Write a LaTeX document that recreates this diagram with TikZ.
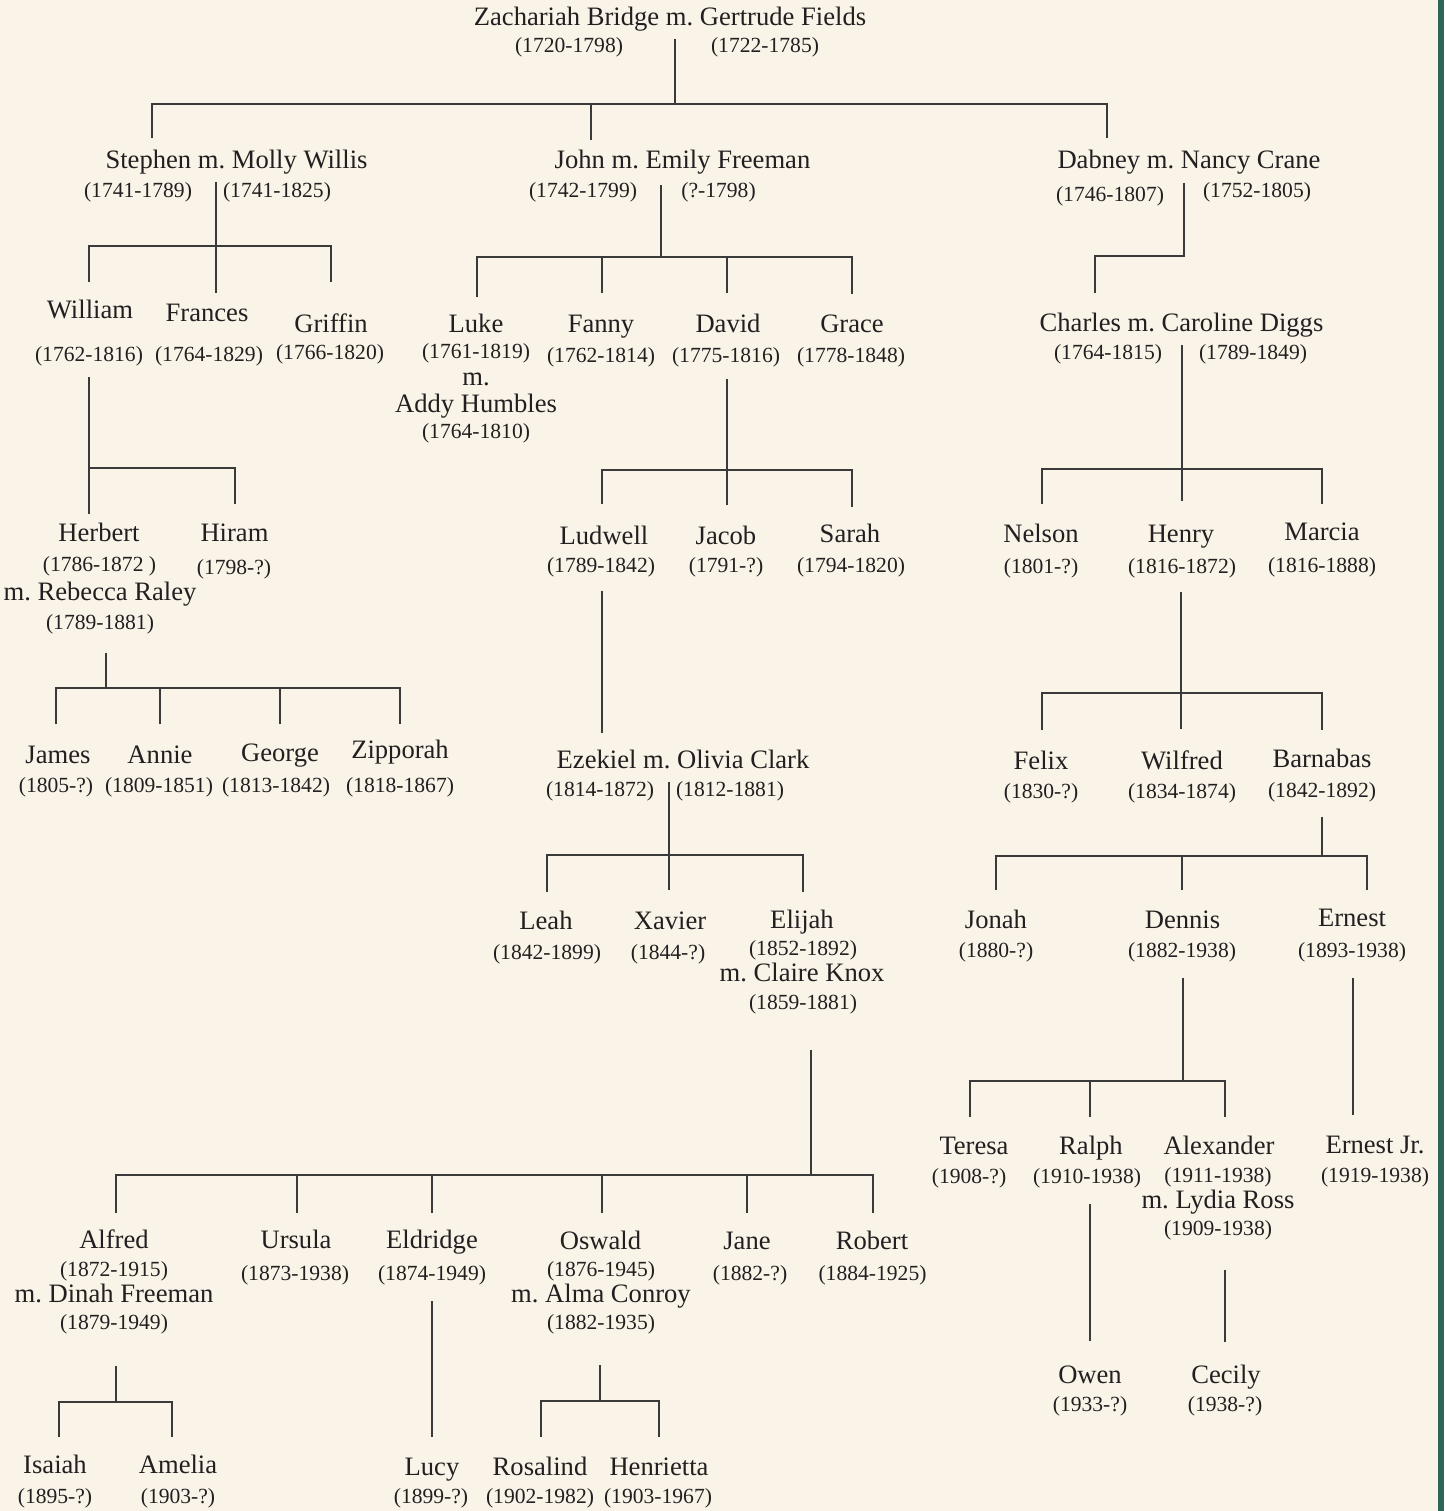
\documentclass[tikz,border=0pt]{standalone}
\usepackage{fontspec}
\setmainfont{Liberation Serif}
\frenchspacing
\definecolor{paper}{HTML}{F9F3E8}
\definecolor{edge}{HTML}{2D6659}
\definecolor{ink}{HTML}{231F20}
\definecolor{wire}{HTML}{3A3A3A}
\newcommand{\nmfont}{\fontsize{26.6}{30}\selectfont}
\newcommand{\yrfont}{\fontsize{21.6}{25}\selectfont}
\tikzset{
  person/.style={anchor=base, inner sep=0pt, font=\nmfont, text=ink},
  years/.style={anchor=base, inner sep=0pt, font=\yrfont, text=ink},
  link/.style={draw=wire, line width=1.5pt}
}
\begin{document}
\begin{tikzpicture}[x=1pt,y=-1pt]
     \fill[paper] (0,0) rectangle (1444,1511);
     \fill[edge] (1438,0) rectangle (1444,1511);
     \useasboundingbox (0,0) rectangle (1444,1511);

     % Zachariah
     \node[person] (zach) at (670,26) {Zachariah Bridge m. Gertrude Fields};
         \node[years] (zach-y1) at (569,53) {(1720-1798)};
         \node[years] (zach-y2) at (765,53) {(1722-1785)};
         \coordinate (zach-out) at (675,39);
         \coordinate (zach-bar) at (675,104);

     % Stephen, John, Dabney
     \node[person] (steph) at (236.5,169) {Stephen m. Molly Willis};
         \node[years] (steph-y1) at (138,198) {(1741-1789)};
         \node[years] (steph-y2) at (277,198) {(1741-1825)};
         \coordinate (steph-in) at (152,138);
         \coordinate (steph-out) at (216,182);
         \coordinate (steph-bar) at (216,246);
     \node[person] (john) at (682.5,169) {John m. Emily Freeman};
         \node[years] (john-y1) at (583,198) {(1742-1799)};
         \node[years] (john-y2) at (718.5,198) {(?-1798)};
         \coordinate (john-in) at (591,140);
         \coordinate (john-out) at (661,185);
         \coordinate (john-bar) at (661,257);
     \node[person] (dab) at (1189,169) {Dabney m. Nancy Crane};
         \node[years] (dab-y1) at (1110,202) {(1746-1807)};
         \node[years] (dab-y2) at (1257,198) {(1752-1805)};
         \coordinate (dab-in) at (1107,138);
         \coordinate (dab-out) at (1184,183);
         \coordinate (dab-bar) at (1184,256);

     % children of Stephen
     \node[person] (will) at (90,319) {William};
         \node[years] (will-y) at (89,361) {(1762-1816)};
         \coordinate (will-in) at (89,282);
         \coordinate (will-out) at (89,377);
         \coordinate (will-bar) at (89,468);
     \node[person] (fran) at (207,321) {Frances};
         \node[years] (fran-y) at (209,361) {(1764-1829)};
         \coordinate (fran-in) at (216,293);
     \node[person] (grif) at (331,332) {Griffin};
         \node[years] (grif-y) at (330,359) {(1766-1820)};
         \coordinate (grif-in) at (331,282);

     % children of John
     \node[person] (luke) at (476,332) {Luke};
         \node[years] (luke-y) at (476,358) {(1761-1819)};
         \node[person] (luke-m) at (476,385) {m.};
         \node[person] (addy) at (476,412) {Addy Humbles};
         \node[years] (addy-y) at (476,438) {(1764-1810)};
         \coordinate (luke-in) at (477,297);
     \node[person] (fanny) at (601,332) {Fanny};
         \node[years] (fanny-y) at (601,362) {(1762-1814)};
         \coordinate (fanny-in) at (602,293);
     \node[person] (david) at (728,332) {David};
         \node[years] (david-y) at (726,362) {(1775-1816)};
         \coordinate (david-in) at (727,293);
         \coordinate (david-out) at (727,379);
         \coordinate (david-bar) at (727,470);
     \node[person] (grace) at (852,332) {Grace};
         \node[years] (grace-y) at (851,362) {(1778-1848)};
         \coordinate (grace-in) at (852,294);

     % child of Dabney
     \node[person] (charles) at (1181.5,331) {Charles m. Caroline Diggs};
         \node[years] (charles-y1) at (1108,359) {(1764-1815)};
         \node[years] (charles-y2) at (1253,359) {(1789-1849)};
         \coordinate (charles-in) at (1095,293);
         \coordinate (charles-out) at (1182,345);
         \coordinate (charles-bar) at (1182,469);

     % children of William
     \node[person] (herb) at (99,541) {Herbert};
         \node[years] (herb-y) at (99.5,571) {(1786-1872 )};
         \node[person] (rebecca) at (100,600) {m. Rebecca Raley};
         \node[years] (rebecca-y) at (100,629) {(1789-1881)};
         \coordinate (herb-in) at (89,514);
         \coordinate (herb-out) at (106,653);
         \coordinate (herb-bar) at (106,688);
     \node[person] (hiram) at (234.5,541) {Hiram};
         \node[years] (hiram-y) at (234,574) {(1798-?)};
         \coordinate (hiram-in) at (235,504);

     % children of David
     \node[person] (ludwell) at (604,544) {Ludwell};
         \node[years] (ludwell-y) at (601,572) {(1789-1842)};
         \coordinate (ludwell-in) at (602,504);
         \coordinate (ludwell-out) at (602,591);
     \node[person] (jacob) at (726,544) {Jacob};
         \node[years] (jacob-y) at (726,572) {(1791-?)};
         \coordinate (jacob-in) at (727,505);
     \node[person] (sarah) at (850,542) {Sarah};
         \node[years] (sarah-y) at (851,572) {(1794-1820)};
         \coordinate (sarah-in) at (852,507);

     % children of Charles
     \node[person] (nelson) at (1041,542) {Nelson};
         \node[years] (nelson-y) at (1041,573) {(1801-?)};
         \coordinate (nelson-in) at (1042,504);
     \node[person] (henry) at (1181,542) {Henry};
         \node[years] (henry-y) at (1182,573) {(1816-1872)};
         \coordinate (henry-in) at (1182,501);
         \coordinate (henry-out) at (1181,592);
         \coordinate (henry-bar) at (1181,693);
     \node[person] (marcia) at (1322,540) {Marcia};
         \node[years] (marcia-y) at (1322,572) {(1816-1888)};
         \coordinate (marcia-in) at (1322,504);

     % children of Herbert
     \node[person] (james) at (58,763) {James};
         \node[years] (james-y) at (56,792) {(1805-?)};
         \coordinate (james-in) at (56,724);
     \node[person] (annie) at (160,763) {Annie};
         \node[years] (annie-y) at (159,792) {(1809-1851)};
         \coordinate (annie-in) at (160,724);
     \node[person] (george) at (280,761) {George};
         \node[years] (george-y) at (276,792) {(1813-1842)};
         \coordinate (george-in) at (280,724);
     \node[person] (zipp) at (400,758) {Zipporah};
         \node[years] (zipp-y) at (400,792) {(1818-1867)};
         \coordinate (zipp-in) at (400,724);

     % child of Ludwell
     \node[person] (ezek) at (683,768) {Ezekiel m. Olivia Clark};
         \node[years] (ezek-y1) at (600,796) {(1814-1872)};
         \node[years] (ezek-y2) at (730,796) {(1812-1881)};
         \coordinate (ezek-in) at (602,733);
         \coordinate (ezek-out) at (669,782);
         \coordinate (ezek-bar) at (669,855);

     % children of Henry
     \node[person] (felix) at (1041,769) {Felix};
         \node[years] (felix-y) at (1041,798) {(1830-?)};
         \coordinate (felix-in) at (1042,730);
     \node[person] (wilf) at (1182,769) {Wilfred};
         \node[years] (wilf-y) at (1182,798) {(1834-1874)};
         \coordinate (wilf-in) at (1181,729);
     \node[person] (barn) at (1322,767) {Barnabas};
         \node[years] (barn-y) at (1322,797) {(1842-1892)};
         \coordinate (barn-in) at (1322,730);
         \coordinate (barn-out) at (1322,817);
         \coordinate (barn-bar) at (1322,856);

     % children of Ezekiel
     \node[person] (leah) at (546,929) {Leah};
         \node[years] (leah-y) at (547,959) {(1842-1899)};
         \coordinate (leah-in) at (547,892);
     \node[person] (xav) at (670,929) {Xavier};
         \node[years] (xav-y) at (668,959) {(1844-?)};
         \coordinate (xav-in) at (669,890);
     \node[person] (elijah) at (802,928) {Elijah};
         \node[years] (elijah-y) at (803,955) {(1852-1892)};
         \node[person] (claire) at (802,981) {m. Claire Knox};
         \node[years] (claire-y) at (803,1009) {(1859-1881)};
         \coordinate (elijah-in) at (803,892);
         \coordinate (elijah-out) at (811,1050);
         \coordinate (elijah-bar) at (811,1175);

     % children of Barnabas
     \node[person] (jonah) at (996,928) {Jonah};
         \node[years] (jonah-y) at (996,957) {(1880-?)};
         \coordinate (jonah-in) at (996,890);
     \node[person] (dennis) at (1182.5,928) {Dennis};
         \node[years] (dennis-y) at (1182,957) {(1882-1938)};
         \coordinate (dennis-in) at (1182,890);
         \coordinate (dennis-out) at (1183,978);
         \coordinate (dennis-bar) at (1183,1081);
     \node[person] (ernest) at (1352,926) {Ernest};
         \node[years] (ernest-y) at (1352,957) {(1893-1938)};
         \coordinate (ernest-in) at (1367,890);
         \coordinate (ernest-out) at (1353,978);

     % children of Elijah
     \node[person] (alfred) at (114,1248) {Alfred};
         \node[years] (alfred-y) at (114,1276) {(1872-1915)};
         \node[person] (dinah) at (114,1302) {m. Dinah Freeman};
         \node[years] (dinah-y) at (114,1329) {(1879-1949)};
         \coordinate (alfred-in) at (116,1213);
         \coordinate (alfred-out) at (116,1366);
         \coordinate (alfred-bar) at (116,1402);
     \node[person] (ursula) at (296,1248) {Ursula};
         \node[years] (ursula-y) at (295,1280) {(1873-1938)};
         \coordinate (ursula-in) at (297,1213);
     \node[person] (eld) at (432,1248) {Eldridge};
         \node[years] (eld-y) at (432,1280) {(1874-1949)};
         \coordinate (eld-in) at (432,1213);
         \coordinate (eld-out) at (432,1301);
     \node[person] (osw) at (600.5,1249) {Oswald};
         \node[years] (osw-y) at (601,1276) {(1876-1945)};
         \node[person] (alma) at (601,1302) {m. Alma Conroy};
         \node[years] (alma-y) at (601,1329) {(1882-1935)};
         \coordinate (osw-in) at (602,1213);
         \coordinate (osw-out) at (600,1365);
         \coordinate (osw-bar) at (600,1401);
     \node[person] (jane) at (747,1249) {Jane};
         \node[years] (jane-y) at (750,1280) {(1882-?)};
         \coordinate (jane-in) at (747,1213);
     \node[person] (rob) at (872,1249) {Robert};
         \node[years] (rob-y) at (872.5,1280) {(1884-1925)};
         \coordinate (rob-in) at (873,1213);

     % children of Dennis and Ernest
     \node[person] (teresa) at (974,1154) {Teresa};
         \node[years] (teresa-y) at (969,1183) {(1908-?)};
         \coordinate (teresa-in) at (970,1117);
     \node[person] (ralph) at (1091,1154) {Ralph};
         \node[years] (ralph-y) at (1087,1183) {(1910-1938)};
         \coordinate (ralph-in) at (1090,1117);
         \coordinate (ralph-out) at (1090,1204);
     \node[person] (alex) at (1219,1154) {Alexander};
         \node[years] (alex-y) at (1218,1182) {(1911-1938)};
         \node[person] (lydia) at (1218,1208) {m. Lydia Ross};
         \node[years] (lydia-y) at (1218,1235) {(1909-1938)};
         \coordinate (alex-in) at (1225,1117);
         \coordinate (alex-out) at (1225,1270);
     \node[person] (ernjr) at (1375,1153) {Ernest Jr.};
         \node[years] (ernjr-y) at (1375,1182) {(1919-1938)};
         \coordinate (ernjr-in) at (1353,1115);

     % last generation
     \node[person] (isaiah) at (55,1473) {Isaiah};
         \node[years] (isaiah-y) at (55,1503) {(1895-?)};
         \coordinate (isaiah-in) at (59,1437);
     \node[person] (amelia) at (178,1473) {Amelia};
         \node[years] (amelia-y) at (178,1503) {(1903-?)};
         \coordinate (amelia-in) at (172,1437);
     \node[person] (lucy) at (432,1475) {Lucy};
         \node[years] (lucy-y) at (431,1503) {(1899-?)};
         \coordinate (lucy-in) at (432,1437);
     \node[person] (rosa) at (540,1475) {Rosalind};
         \node[years] (rosa-y) at (540,1503) {(1902-1982)};
         \coordinate (rosa-in) at (541,1437);
     \node[person] (henr) at (659,1475) {Henrietta};
         \node[years] (henr-y) at (658,1503) {(1903-1967)};
         \coordinate (henr-in) at (659,1437);
     \node[person] (owen) at (1090,1383) {Owen};
         \node[years] (owen-y) at (1090,1411) {(1933-?)};
         \coordinate (owen-in) at (1090,1341);
     \node[person] (cecily) at (1226,1383) {Cecily};
         \node[years] (cecily-y) at (1225,1411) {(1938-?)};
         \coordinate (cecily-in) at (1225,1342);

     % lines
     \draw[link] (zach-out) -- (zach-bar);
         \draw[link] (steph-in) |- (zach-bar) -| (dab-in);
         \draw[link] (john-in) -- (john-in |- zach-bar);
     \draw[link] (steph-out) -- (fran-in);
         \draw[link] (will-in) |- (steph-bar) -| (grif-in);
     \draw[link] (john-out) -- (john-bar);
         \draw[link] (luke-in) |- (john-bar) -| (grace-in);
         \draw[link] (fanny-in) -- (fanny-in |- john-bar);
         \draw[link] (david-in) -- (david-in |- john-bar);
     \draw[link] (dab-out) -- (dab-bar) -| (charles-in);
     \draw[link] (will-out) -- (herb-in);
         \draw[link] (will-bar) -| (hiram-in);
     \draw[link] (david-out) -- (jacob-in);
         \draw[link] (ludwell-in) |- (david-bar) -| (sarah-in);
     \draw[link] (charles-out) -- (henry-in);
         \draw[link] (nelson-in) |- (charles-bar) -| (marcia-in);
     \draw[link] (herb-out) -- (herb-bar);
         \draw[link] (james-in) |- (herb-bar) -| (zipp-in);
         \draw[link] (annie-in) -- (annie-in |- herb-bar);
         \draw[link] (george-in) -- (george-in |- herb-bar);
     \draw[link] (ludwell-out) -- (ezek-in);
     \draw[link] (henry-out) -- (wilf-in);
         \draw[link] (felix-in) |- (henry-bar) -| (barn-in);
     \draw[link] (ezek-out) -- (xav-in);
         \draw[link] (leah-in) |- (ezek-bar) -| (elijah-in);
     \draw[link] (barn-out) -- (barn-bar);
         \draw[link] (jonah-in) |- (barn-bar) -| (ernest-in);
         \draw[link] (dennis-in) -- (dennis-in |- barn-bar);
     \draw[link] (elijah-out) -- (elijah-bar);
         \draw[link] (alfred-in) |- (elijah-bar) -| (rob-in);
         \draw[link] (ursula-in) -- (ursula-in |- elijah-bar);
         \draw[link] (eld-in) -- (eld-in |- elijah-bar);
         \draw[link] (osw-in) -- (osw-in |- elijah-bar);
         \draw[link] (jane-in) -- (jane-in |- elijah-bar);
     \draw[link] (dennis-out) -- (dennis-bar);
         \draw[link] (teresa-in) |- (dennis-bar) -| (alex-in);
         \draw[link] (ralph-in) -- (ralph-in |- dennis-bar);
     \draw[link] (ernest-out) -- (ernjr-in);
     \draw[link] (alfred-out) -- (alfred-bar);
         \draw[link] (isaiah-in) |- (alfred-bar) -| (amelia-in);
     \draw[link] (eld-out) -- (lucy-in);
     \draw[link] (osw-out) -- (osw-bar);
         \draw[link] (rosa-in) |- (osw-bar) -| (henr-in);
     \draw[link] (ralph-out) -- (owen-in);
     \draw[link] (alex-out) -- (cecily-in);
\end{tikzpicture}
\end{document}
